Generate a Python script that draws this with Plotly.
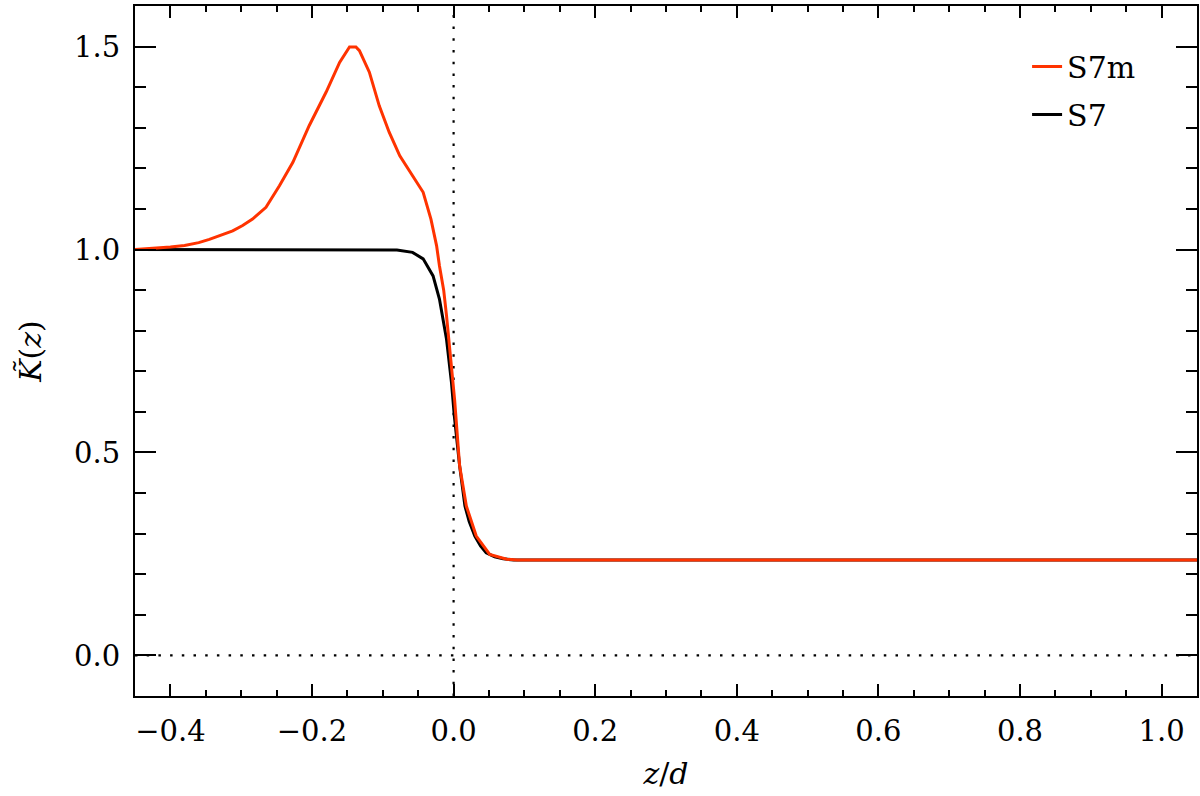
import plotly.graph_objects as go

# S7m (red) profile
s7m_x = [-0.45, -0.42, -0.40, -0.38, -0.36, -0.345, -0.33, -0.312, -0.298, -0.284, -0.265,
         -0.246, -0.227, -0.204, -0.180, -0.161, -0.147, -0.138, -0.133, -0.123, -0.119,
         -0.105, -0.091, -0.076, -0.058, -0.043, -0.032, -0.024, -0.020, -0.014, -0.010,
         -0.003, 0.0014, 0.0085, 0.018, 0.032, 0.051, 0.075, 0.09, 0.2, 0.4, 0.6, 0.8, 1.05]
s7m_y = [1.000, 1.003, 1.006, 1.010, 1.017, 1.025, 1.034, 1.046, 1.059, 1.075, 1.104,
         1.157, 1.215, 1.305, 1.388, 1.461, 1.499, 1.499, 1.490, 1.453, 1.437,
         1.354, 1.289, 1.231, 1.182, 1.141, 1.075, 1.009, 0.960, 0.900, 0.837,
         0.713, 0.631, 0.467, 0.368, 0.294, 0.249, 0.237, 0.235, 0.235, 0.235, 0.235, 0.235, 0.235]

# S7 (black) profile
s7_x = [-0.45, -0.30, -0.20, -0.10, -0.08, -0.058, -0.043, -0.029, -0.020, -0.010,
        -0.003, 0.001, 0.0085, 0.016, 0.022, 0.030, 0.038, 0.046, 0.058, 0.070, 0.085,
        0.2, 0.4, 0.6, 0.8, 1.05]
s7_y = [1.000, 1.000, 1.000, 1.000, 0.999, 0.993, 0.977, 0.935, 0.878, 0.779,
        0.672, 0.590, 0.467, 0.368, 0.330, 0.294, 0.270, 0.253, 0.243, 0.238, 0.235,
        0.235, 0.235, 0.235, 0.235, 0.235]

x_range = [-0.45, 1.05]
y_range = [-0.1, 1.6]

FONT = "DejaVu Serif"

fig = go.Figure()
fig.add_trace(go.Scatter(x=s7_x, y=s7_y, mode="lines", name="S7", legendrank=2,
                         legendgroup="b", line=dict(color="black", width=3)))
fig.add_trace(go.Scatter(x=s7m_x, y=s7m_y, mode="lines", name="S7m", legendrank=1,
                         legendgroup="a", line=dict(color="#ff3300", width=3)))

dot = "2.5px,9.2px"
fig.add_shape(type="line", xref="x", yref="paper", x0=0, x1=0, y0=0, y1=1,
              line=dict(color="black", width=2.2, dash=dot), layer="below")
fig.add_shape(type="line", xref="paper", yref="y", x0=0, x1=1, y0=0, y1=0,
              line=dict(color="black", width=2.2, dash=dot), layer="below")

axis_common = dict(showline=True, linecolor="black", linewidth=2, mirror="allticks",
                   ticks="inside", tickcolor="black", tickwidth=2, showgrid=False,
                   zeroline=False, automargin=False,
                   tickfont=dict(family=FONT, size=29, color="black"))

fig.update_xaxes(range=x_range, dtick=0.2, tick0=0, ticklen=12,
                 tickformat=".1f", ticklabelstandoff=8,
                 minor=dict(dtick=0.05, ticklen=6, ticks="inside", tickcolor="black",
                            tickwidth=2, showgrid=False),
                 title=dict(text="<i>z</i>/<i>d</i>", font=dict(family=FONT, size=30, color="black"),
                            standoff=16),
                 **axis_common)
fig.update_yaxes(range=y_range, dtick=0.5, tick0=0, ticklen=21,
                 tickformat=".1f", ticklabelstandoff=7,
                 minor=dict(dtick=0.1, ticklen=11, ticks="inside", tickcolor="black",
                            tickwidth=2, showgrid=False),
                 title=dict(text="<i>K̃</i>(<i>z</i>)", font=dict(family=FONT, size=30, color="black"),
                            standoff=24),
                 **axis_common)

fig.update_layout(
    width=1200, height=796,
    margin=dict(l=135, r=3, t=6, b=100),
    plot_bgcolor="white", paper_bgcolor="white",
    font=dict(family=FONT, size=29, color="black"),
    legend=dict(x=0.84, y=0.95, xanchor="left", yanchor="top",
                traceorder="grouped", tracegroupgap=6,
                bgcolor="rgba(0,0,0,0)", font=dict(family=FONT, size=30, color="black")),
)

fig.write_html("out.html", config={"displayModeBar": False},
               post_script="document.body.style.margin='0px';document.body.style.overflow='hidden';")
